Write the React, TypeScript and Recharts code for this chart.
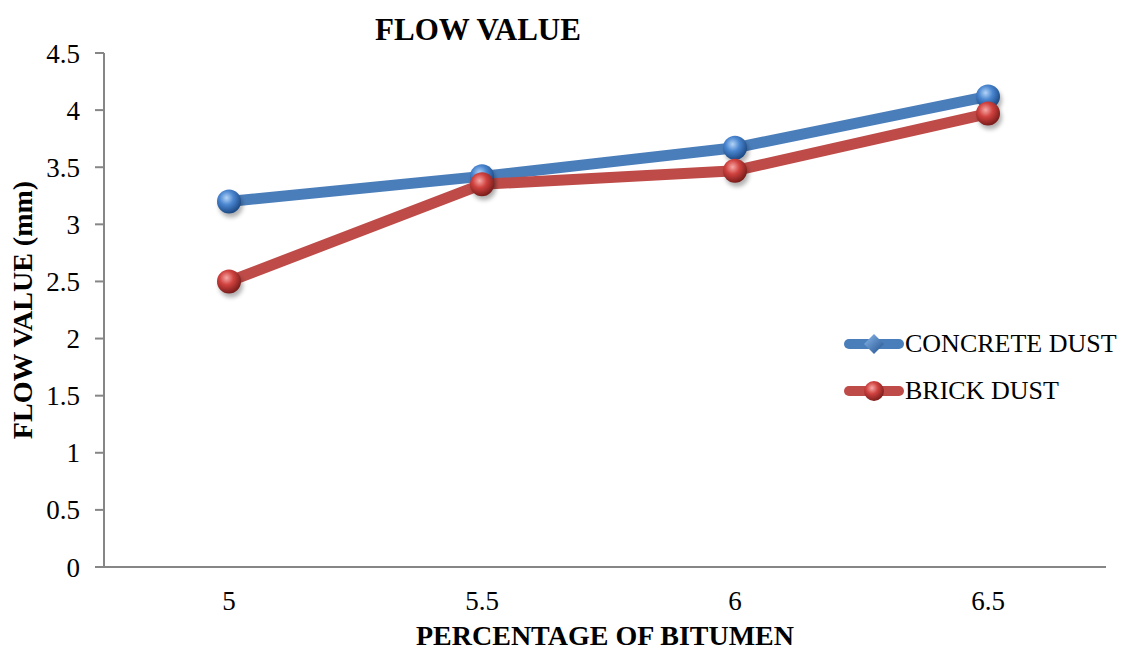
import { LineChart, Line, XAxis, YAxis, Legend } from 'recharts'

const categories = ['5', '5.5', '6', '6.5']
const concreteDust = [3.2, 3.42, 3.67, 4.12]
const brickDust = [2.5, 3.35, 3.47, 3.97]
const yTicks = [0, 0.5, 1, 1.5, 2, 2.5, 3, 3.5, 4, 4.5]

const BLUE = '#4a7ebb'
const RED = '#be4b48'
const AXIS = '#868686'
const FONT = '"Liberation Serif", "Times New Roman", serif'

const data = categories.map((pct, i) => ({
  pct,
  concrete: concreteDust[i],
  brick: brickDust[i],
}))

const makeDot = (grad: string) => (props: any) => {
  const { cx, cy, index } = props
  if (cx == null || cy == null) return <g key={index} />
  return (
    <g key={index}>
      <circle cx={cx + 2} cy={cy + 4} r={12} fill="rgba(0,0,0,0.3)" filter="url(#dotBlur)" />
      <circle cx={cx} cy={cy} r={12} fill={`url(#${grad})`} />
    </g>
  )
}

function LegendContent() {
  const rows = [
    { name: 'CONCRETE DUST', color: BLUE, marker: 'diamond' },
    { name: 'BRICK DUST', color: RED, marker: 'sphere' },
  ]
  return (
    <div style={{ fontFamily: FONT, fontSize: 26, color: '#000' }}>
      {rows.map((r) => (
        <div key={r.name} style={{ display: 'flex', alignItems: 'center', height: 47 }}>
          <svg width={62} height={26} style={{ display: 'block' }}>
            <defs>
              <radialGradient id="legRed" cx="40%" cy="35%" r="65%">
                <stop offset="0%" stopColor="#f6a9a7" />
                <stop offset="45%" stopColor="#d0423f" />
                <stop offset="100%" stopColor="#7e1f1d" />
              </radialGradient>
              <linearGradient id="legBlue" x1="0" y1="0" x2="1" y2="1">
                <stop offset="0%" stopColor="#8dbbef" />
                <stop offset="100%" stopColor="#1f4f8c" />
              </linearGradient>
            </defs>
            <line x1={6} y1={13} x2={56} y2={13} stroke={r.color} strokeWidth={10} strokeLinecap="round" />
            {r.marker === 'diamond' ? (
              <polygon points="31,3 41,13 31,23 21,13" fill="url(#legBlue)" />
            ) : (
              <circle cx={31} cy={13} r={10} fill="url(#legRed)" />
            )}
          </svg>
          <span style={{ whiteSpace: 'nowrap' }}>{r.name}</span>
        </div>
      ))}
    </div>
  )
}

export default function App() {
  return (
    <div style={{ position: 'fixed', left: 0, top: 0, width: 1133, height: 652, background: '#fff' }}>
      <div
        style={{
          position: 'absolute',
          left: 478,
          top: 14,
          transform: 'translateX(-50%)',
          fontFamily: FONT,
          fontWeight: 'bold',
          fontSize: 31,
          lineHeight: 1,
          whiteSpace: 'nowrap',
        }}
      >
        FLOW VALUE
      </div>
      <LineChart width={1133} height={652} data={data} margin={{ top: 53, right: 27, bottom: 5, left: 10 }}>
        <defs>
          <radialGradient id="gradBlue" cx="40%" cy="35%" r="65%">
            <stop offset="0%" stopColor="#b3d4f7" />
            <stop offset="45%" stopColor="#4a86d0" />
            <stop offset="100%" stopColor="#1d4a85" />
          </radialGradient>
          <radialGradient id="gradRed" cx="40%" cy="35%" r="65%">
            <stop offset="0%" stopColor="#f6a9a7" />
            <stop offset="45%" stopColor="#d0423f" />
            <stop offset="100%" stopColor="#7a1d1b" />
          </radialGradient>
          <filter id="dotBlur" x="-50%" y="-50%" width="200%" height="200%">
            <feGaussianBlur stdDeviation="2" />
          </filter>
        </defs>
        <XAxis
          dataKey="pct"
          type="category"
          height={80}
          padding={{ left: 125, right: 118 }}
          axisLine={{ stroke: AXIS, strokeWidth: 2 }}
          tickLine={false}
          tickSize={0}
          tickMargin={24}
          tick={{ fill: '#000', fontSize: 27, fontFamily: FONT }}
          label={{
            value: 'PERCENTAGE OF BITUMEN',
            content: (p: any) => {
              const vb = p.viewBox
              return (
                <text
                  x={vb.x + vb.width / 2}
                  y={645}
                  textAnchor="middle"
                  fontFamily={FONT}
                  fontWeight="bold"
                  fontSize={28}
                  fill="#000"
                >
                  PERCENTAGE OF BITUMEN
                </text>
              )
            },
          }}
        />
        <YAxis
          type="number"
          domain={[0, 4.5]}
          ticks={yTicks}
          width={94}
          axisLine={{ stroke: AXIS, strokeWidth: 2 }}
          tickLine={{ stroke: AXIS, strokeWidth: 2 }}
          tickSize={9}
          tickMargin={15}
          tick={{ fill: '#000', fontSize: 27, fontFamily: FONT }}
          label={{
            value: 'FLOW VALUE (mm)',
            content: (p: any) => {
              const vb = p.viewBox
              const cx = 22
              const cy = vb.y + vb.height / 2
              return (
                <text
                  x={cx}
                  y={cy}
                  transform={`rotate(-90, ${cx}, ${cy})`}
                  textAnchor="middle"
                  dominantBaseline="central"
                  fontFamily={FONT}
                  fontWeight="bold"
                  fontSize={28}
                  fill="#000"
                >
                  FLOW VALUE (mm)
                </text>
              )
            },
          }}
        />
        <Legend
          layout="horizontal"
          align="center"
          verticalAlign="middle"
          content={() => <LegendContent />}
          wrapperStyle={{ left: 843, top: 320, width: 290, right: 'auto' }}
        />
        <Line
          type="linear"
          dataKey="concrete"
          name="CONCRETE DUST"
          stroke={BLUE}
          strokeWidth={11}
          strokeLinejoin="round"
          dot={makeDot('gradBlue')}
          activeDot={false}
          isAnimationActive={false}
        />
        <Line
          type="linear"
          dataKey="brick"
          name="BRICK DUST"
          stroke={RED}
          strokeWidth={11}
          strokeLinejoin="round"
          dot={makeDot('gradRed')}
          activeDot={false}
          isAnimationActive={false}
        />
      </LineChart>
    </div>
  )
}
